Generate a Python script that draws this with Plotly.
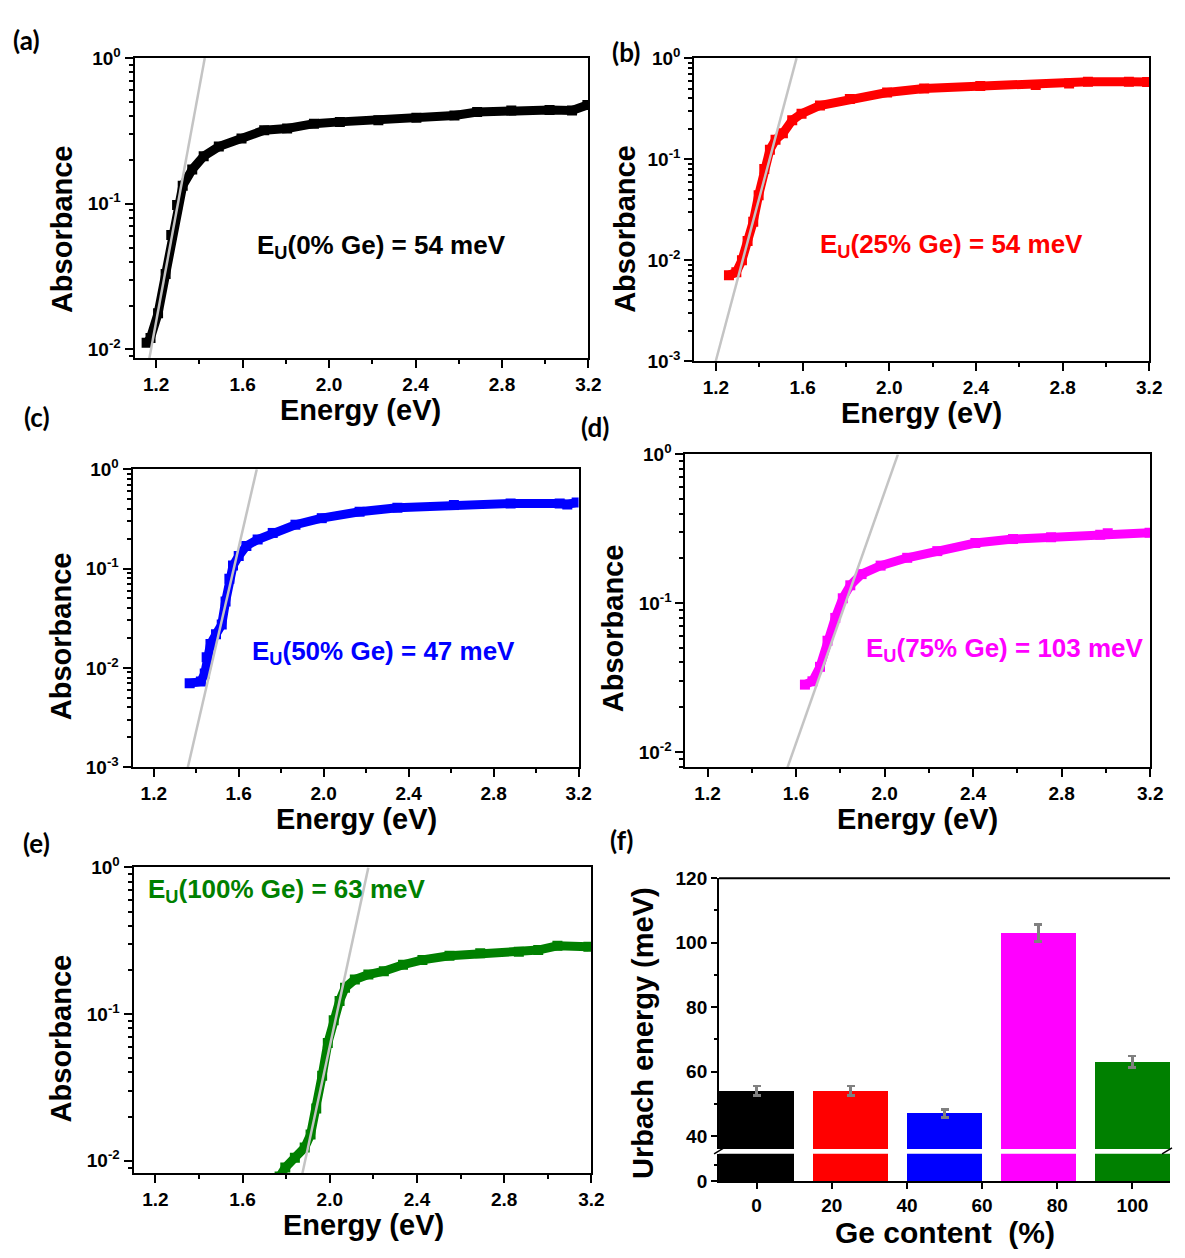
import math
import plotly.graph_objects as go

# ---------------- absorbance spectra (energy in eV, absorbance) ----------------
E_0 = [1.156, 1.174, 1.209, 1.244, 1.270, 1.297, 1.323, 1.367, 1.420, 1.490, 1.595,
       1.700, 1.806, 1.930, 2.050, 2.228, 2.404, 2.580, 2.685, 2.843, 3.020, 3.124, 3.195]
A_0 = [0.0111, 0.0120, 0.0177, 0.0330, 0.0610, 0.0980, 0.1330, 0.1720, 0.2120, 0.2470, 0.2810,
       0.3200, 0.3290, 0.3550, 0.3650, 0.3740, 0.3900, 0.4040, 0.4260, 0.4370, 0.4410, 0.4370, 0.4770]

E_25 = [1.260, 1.294, 1.320, 1.346, 1.372, 1.397, 1.423, 1.449, 1.475, 1.509, 1.552,
        1.595, 1.680, 1.818, 1.990, 2.161, 2.420, 2.676, 2.830, 2.917, 3.106, 3.190]
A_25 = [0.0071, 0.0076, 0.0100, 0.0155, 0.0240, 0.0440, 0.0800, 0.1240, 0.1560, 0.1800, 0.2430,
        0.2820, 0.3400, 0.3940, 0.4570, 0.5000, 0.5310, 0.5430, 0.5600, 0.5850, 0.5850, 0.5800]

E_50 = [1.369, 1.422, 1.440, 1.449, 1.467, 1.493, 1.520, 1.538, 1.556, 1.573, 1.600, 1.636,
        1.689, 1.760, 1.867, 1.991, 2.169, 2.347, 2.613, 2.880, 3.111, 3.147, 3.191]
A_50 = [0.0070, 0.0073, 0.0088, 0.0128, 0.0174, 0.0218, 0.0273, 0.0466, 0.0790, 0.1070, 0.1340, 0.1690,
        0.1960, 0.2280, 0.2760, 0.3210, 0.3730, 0.4090, 0.4350, 0.4520, 0.4520, 0.4410, 0.4620]

E_75 = [1.640, 1.674, 1.708, 1.742, 1.777, 1.811, 1.845, 1.896, 1.982, 2.102, 2.238,
        2.410, 2.580, 2.752, 2.974, 3.008, 3.197]
A_75 = [0.0284, 0.0299, 0.0374, 0.0560, 0.0797, 0.1080, 0.1320, 0.1570, 0.1790, 0.2020, 0.2240,
        0.2540, 0.2700, 0.2780, 0.2880, 0.2950, 0.2980]

E_100 = [1.770, 1.796, 1.840, 1.885, 1.912, 1.938, 1.965, 1.991, 2.018, 2.045, 2.070, 2.115,
         2.177, 2.248, 2.336, 2.425, 2.549, 2.690, 2.867, 2.956, 3.044, 3.186]
A_100 = [0.0078, 0.0090, 0.0105, 0.0123, 0.0151, 0.0227, 0.0380, 0.0634, 0.0908, 0.1230, 0.1510, 0.1720,
         0.1860, 0.1960, 0.2170, 0.2340, 0.2500, 0.2600, 0.2660, 0.2730, 0.2920, 0.2880]

# Urbach energies (meV) and the energy where each exponential-tail fit reaches A = 1
ge_content = [0, 25, 50, 75, 100]
urbach_meV = [54, 54, 47, 103, 63]
urbach_err = [1.5, 1.5, 1.3, 2.7, 1.8]
fit_top_eV = [1.425, 1.572, 1.685, 2.060, 2.177]

colors = ["#000000", "#ff0000", "#0000ff", "#ff00ff", "#008000"]
series_E = [E_0, E_25, E_50, E_75, E_100]
series_A = [A_0, A_25, A_50, A_75, A_100]
labels = ["(a)", "(b)", "(c)", "(d)", "(e)"]

x_ticks = [1.2, 1.6, 2.0, 2.4, 2.8, 3.2]
x_ticktext = ["1.2", "1.6", "2.0", "2.4", "2.8", "3.2"]
bar_ticks = [0, 20, 40, 60, 80, 100]
bar_ticktext = ["0", "20", "40", "60", "80", "100"]
upper_ticks = [40, 60, 80, 100, 120]
upper_ticktext = ["40", "60", "80", "100", "120"]

W, H = 1185, 1258

# panel boxes in pixels: left, right, top, bottom, y-min of log axis
panels = [
    dict(l=136, r=595, t=46, b=352, ymin=0.0087),
    dict(l=702, r=1162, t=46, b=355, ymin=0.001),
    dict(l=134, r=585, t=465, b=769, ymin=0.001),
    dict(l=693, r=1163, t=450, b=769, ymin=0.0079),
    dict(l=135, r=598, t=871, b=1183, ymin=0.0082),
]
# text placements (pixel centres)
eu_pos = [(386, 238, "center"), (962, 237, "center"), (388, 652, "center"),
          (1016, 649, "center"), (148, 895, "left")]
label_pos = [(27, 28), (633, 40), (37, 412), (602, 422), (37, 846)]
absorb_pos = [(62, 220), (632, 220), (62, 635), (620, 627), (62, 1045)]
energy_x = [365, 932, 360, 928, 368]
energy_gap = 53  # title centre below the bottom axis line

FONT = "Liberation Sans"
tick_font = dict(family=FONT, size=19, color="black", weight="bold")


def px(x):
    return x / W


def py(y):
    return 1 - y / H


def bold(s):
    return f"<b>{s}</b>"


fig = go.Figure()
annotations = []
shapes = []
layout = {}

for i in range(5):
    n = i + 1
    xa = "x" if n == 1 else f"x{n}"
    ya = "y" if n == 1 else f"y{n}"
    p = panels[i]
    ymin = p["ymin"]

    # measured spectrum
    fig.add_trace(go.Scatter(
        x=series_E[i], y=series_A[i], xaxis=xa, yaxis=ya,
        mode="lines+markers",
        line=dict(color=colors[i], width=9),
        marker=dict(symbol="square", size=10, color=colors[i]),
        showlegend=False, hoverinfo="skip"))

    # Urbach fit: log10(A) rises by 1/(Eu ln10) per eV
    slope = 1.0 / (urbach_meV[i] / 1000.0 * math.log(10))
    e_top = fit_top_eV[i]
    e_bot = e_top + math.log10(ymin) / slope
    fig.add_trace(go.Scatter(
        x=[e_bot, e_top], y=[ymin, 1.0], xaxis=xa, yaxis=ya,
        mode="lines", line=dict(color="#c4c4c4", width=2.5),
        showlegend=False, hoverinfo="skip"))

    dec_lo = int(math.ceil(math.log10(ymin) - 1e-9))
    yt = [10.0 ** k for k in range(dec_lo, 1)]
    ytt = [bold(f"10<sup>{k}</sup>") for k in range(dec_lo, 1)]
    key_x = "xaxis" if n == 1 else f"xaxis{n}"
    key_y = "yaxis" if n == 1 else f"yaxis{n}"
    layout[key_x] = dict(
        domain=[px(p["l"]), px(p["r"])], anchor=ya, range=[1.1, 3.2],
        tickvals=x_ticks, ticktext=[bold(t) for t in x_ticktext],
        ticks="outside", ticklen=8, tickwidth=2,
        tickcolor="black", showline=True, linecolor="black", linewidth=2, mirror=True,
        showgrid=False, zeroline=False, tickfont=tick_font,
        minor=dict(ticks="outside", ticklen=4, tickwidth=2, tickcolor="black",
                   tickvals=[1.4, 1.8, 2.2, 2.6, 3.0]))
    layout[key_y] = dict(
        domain=[py(p["b"]), py(p["t"])], anchor=xa, type="log",
        range=[math.log10(ymin), 0],
        tickvals=yt, ticktext=ytt, ticks="outside", ticklen=8, tickwidth=2,
        tickcolor="black", showline=True, linecolor="black", linewidth=2, mirror=True,
        showgrid=False, zeroline=False, tickfont=tick_font,
        minor=dict(ticks="outside", ticklen=4, tickwidth=1.5, tickcolor="black",
                   dtick="D1"))

    ex, ey, anc = eu_pos[i]
    pct = ge_content[i]
    annotations.append(dict(
        x=px(ex), y=py(ey), xref="paper", yref="paper", xanchor=anc, yanchor="middle",
        text=bold(f"E<sub>U</sub>({pct}% Ge) = {urbach_meV[i]} meV"), showarrow=False,
        font=dict(family=FONT, size=26, color=colors[i])))
    lx, ly = label_pos[i]
    annotations.append(dict(
        x=px(lx), y=py(ly), xref="paper", yref="paper", xanchor="center", yanchor="middle",
        text=bold(labels[i]), showarrow=False,
        font=dict(family="Lato", size=26, color="black")))
    ax_, ay_ = absorb_pos[i]
    annotations.append(dict(
        x=px(ax_), y=py(ay_), xref="paper", yref="paper", xanchor="center", yanchor="middle",
        text=bold("Absorbance"), textangle=-90, showarrow=False,
        font=dict(family=FONT, size=29, color="black")))
    annotations.append(dict(
        x=px(energy_x[i]), y=py(p["b"] + energy_gap), xref="paper", yref="paper",
        xanchor="center", yanchor="middle",
        text=bold("Energy (eV)"), showarrow=False,
        font=dict(family=FONT, size=29, color="black")))

# ---------------- (f) Urbach energy bar chart with broken y axis ----------------
f_l, f_r = 727, 1183
up_t, up_b = 882, 1158
lo_t, lo_b = 1163, 1191

for yax in ("y6", "y7"):
    fig.add_trace(go.Bar(
        x=ge_content, y=urbach_meV, width=20, xaxis="x6", yaxis=yax,
        marker=dict(color=colors, line=dict(width=0)),
        error_y=dict(type="data", array=urbach_err, color="#808080",
                     thickness=2.5, width=4, visible=(yax == "y6")),
        showlegend=False, hoverinfo="skip"))

layout["xaxis6"] = dict(
    domain=[px(f_l), px(f_r)], anchor="y7", range=[-10, 110],
    tickvals=bar_ticks, ticktext=[bold(t) for t in bar_ticktext],
    ticks="outside", ticklen=6, tickwidth=2, tickcolor="black",
    showline=True, linecolor="black", linewidth=2, showgrid=False, zeroline=False,
    tickfont=tick_font)
layout["yaxis6"] = dict(
    domain=[py(up_b), py(up_t)], anchor="x6", range=[36.0, 120],
    tickvals=upper_ticks, ticktext=[bold(t) for t in upper_ticktext],
    ticks="outside", ticklen=6, tickwidth=2, tickcolor="black",
    showline=True, linecolor="black", linewidth=2, showgrid=False, zeroline=False,
    tickfont=tick_font,
    minor=dict(ticks="outside", ticklen=3, tickwidth=2, tickcolor="black",
               tickvals=[50, 70, 90, 110]))
layout["yaxis7"] = dict(
    domain=[py(lo_b), py(lo_t)], anchor="x6", range=[0, 8.6],
    tickvals=[0], ticktext=[bold("0")], ticks="outside", ticklen=6, tickwidth=2,
    tickcolor="black",
    showline=True, linecolor="black", linewidth=2, showgrid=False, zeroline=False,
    tickfont=tick_font,
    minor=dict(ticks="outside", ticklen=3, tickwidth=2, tickcolor="black", tickvals=[5]))

# top frame line of the upper segment
shapes.append(dict(type="line", xref="x6 domain", yref="y6 domain", x0=0, x1=1, y0=1, y1=1,
                   line=dict(color="black", width=2)))
# break marks on the y axis and on the right edge
for bx in (f_l, f_r - 3):
    shapes.append(dict(type="line", xref="paper", yref="paper",
                       x0=px(bx - 5), x1=px(bx + 5), y0=py(up_b + 5), y1=py(up_b - 1),
                       line=dict(color="black", width=1.5)))

annotations.append(dict(
    x=px(628), y=py(843), xref="paper", yref="paper", xanchor="center", yanchor="middle",
    text=bold("(f)"), showarrow=False, font=dict(family="Lato", size=26, color="black")))
annotations.append(dict(
    x=px(650), y=py(1040), xref="paper", yref="paper", xanchor="center", yanchor="middle",
    text=bold("Urbach energy (meV)"), textangle=-90, showarrow=False,
    font=dict(family=FONT, size=29, color="black")))
annotations.append(dict(
    x=px(955), y=py(1243), xref="paper", yref="paper", xanchor="center", yanchor="middle",
    text=bold("Ge content  (%)"), showarrow=False,
    font=dict(family=FONT, size=30, color="black")))

fig.update_layout(
    width=W, height=H, margin=dict(l=0, r=0, t=0, b=0),
    paper_bgcolor="white", plot_bgcolor="white",
    annotations=annotations, shapes=shapes, bargap=0,
    **layout)

fig.write_html("out.html")
